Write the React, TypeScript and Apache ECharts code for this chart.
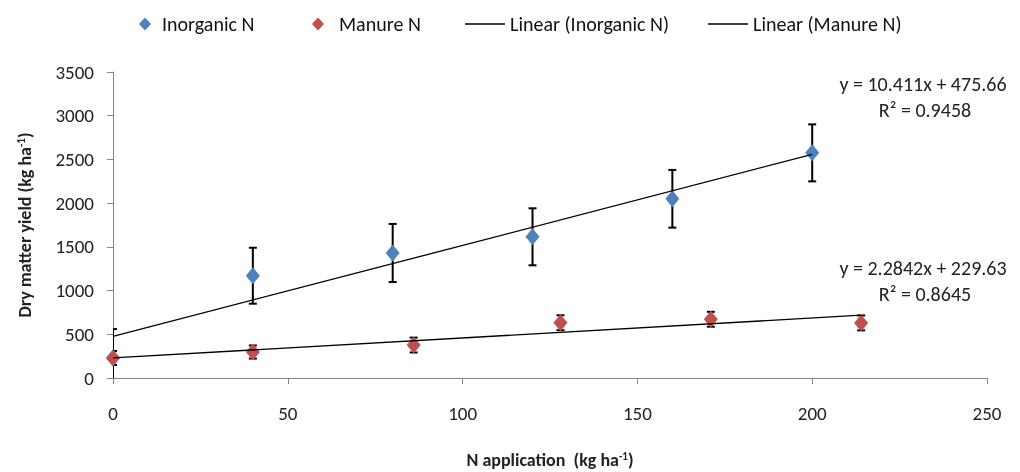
import React, { useEffect, useRef } from "react";
import * as echarts from "echarts";

const inorganicX = [0, 40, 80, 120, 160, 200];
const inorganicY = [230, 1170, 1430, 1615, 2050, 2575];
const inorganicErr = [330, 320, 332, 326, 330, 326];

const manureX = [0, 40, 86, 128, 171, 214];
const manureY = [229, 297, 377, 632, 672, 630];
const manureErr = [80, 75, 85, 85, 85, 85];

const inorganicTrend = [
  [0, 475.66],
  [200, 2557.86],
];
const manureTrend = [
  [0, 229.63],
  [214, 718.45],
];

const yTicks = [0, 500, 1000, 1500, 2000, 2500, 3000, 3500];
const xTicks = [0, 50, 100, 150, 200, 250];

const FONT = "Carlito, Lato, 'Liberation Sans', sans-serif";
const BLUE = "#4F81BD";
const RED = "#C0504D";

function errorRender(params: any, api: any) {
  const x = api.value(0);
  const y = api.value(1);
  const e = api.value(2);
  const top = api.coord([x, y + e]);
  const bot = api.coord([x, y - e]);
  const hw = 4;
  const st = { stroke: "#000", lineWidth: 2 };
  return {
    type: "group",
    children: [
      { type: "line", shape: { x1: top[0], y1: top[1], x2: bot[0], y2: bot[1] }, style: st },
      { type: "line", shape: { x1: top[0] - hw, y1: top[1], x2: top[0] + hw, y2: top[1] }, style: st },
      { type: "line", shape: { x1: bot[0] - hw, y1: bot[1], x2: bot[0] + hw, y2: bot[1] }, style: st },
    ],
  };
}

export default function App() {
  const ref = useRef<HTMLDivElement>(null);
  useEffect(() => {
    if (!ref.current) return;
    const chart = echarts.init(ref.current, undefined, { renderer: "svg" });
    const legendBase = {
      top: 9,
      orient: "horizontal" as const,
      textStyle: { fontFamily: FONT, fontSize: 20, color: "#111" },
      selectedMode: false,
    };
    const eqStyle = {
      fontSize: 20,
      fill: "#222",
      fontFamily: FONT,
      textAlign: "center",
      textVerticalAlign: "middle",
    };
    chart.setOption({
      animation: false,
      textStyle: { fontFamily: FONT },
      grid: { left: 113, right: 33, top: 72, bottom: 94, outerBoundsMode: "none" },
      legend: [
        {
          ...legendBase,
          left: 134,
          data: [{ name: "Inorganic N", icon: "diamond", itemStyle: { opacity: 1 } }],
          itemWidth: 12,
          itemHeight: 13,
          textStyle: { ...legendBase.textStyle, padding: [0, 0, 0, 6] },
        },
        {
          ...legendBase,
          left: 307,
          data: [{ name: "Manure N", icon: "diamond", itemStyle: { opacity: 1 } }],
          itemWidth: 12,
          itemHeight: 13,
          textStyle: { ...legendBase.textStyle, padding: [0, 0, 0, 10] },
        },
        {
          ...legendBase,
          left: 460,
          data: [{ name: "Linear (Inorganic N)", icon: "rect" }],
          itemWidth: 40,
          itemHeight: 1.5,
        },
        {
          ...legendBase,
          left: 703,
          data: [{ name: "Linear (Manure N)", icon: "rect" }],
          itemWidth: 40,
          itemHeight: 1.5,
        },
      ],
      xAxis: {
        type: "value",
        min: xTicks[0],
        max: xTicks[xTicks.length - 1],
        interval: 50,
        splitLine: { show: false },
        axisLine: { show: true, lineStyle: { color: "#868686", width: 1 } },
        axisTick: { show: true, length: 6, lineStyle: { color: "#868686" } },
        axisLabel: { fontSize: 19, color: "#222", margin: 26, fontFamily: FONT },
        name: "{a|N application  (kg ha}{s|-1}{a|)}",
        nameLocation: "middle",
        nameGap: 73,
        nameTextStyle: {
          rich: {
            a: { fontSize: 18, fontWeight: "bold", color: "#222", fontFamily: FONT },
            s: { fontSize: 11, fontWeight: "bold", color: "#222", fontFamily: FONT, verticalAlign: "top" },
          },
        },
      },
      yAxis: {
        type: "value",
        min: yTicks[0],
        max: yTicks[yTicks.length - 1],
        interval: 500,
        splitLine: { show: false },
        axisLine: { show: true, lineStyle: { color: "#868686", width: 1 } },
        axisTick: { show: true, length: 6, lineStyle: { color: "#868686" } },
        axisLabel: {
          fontSize: 19,
          color: "#222",
          margin: 19,
          fontFamily: FONT,
          formatter: (v: number) => String(v),
        },
        name: "{a|Dry matter yield (kg ha}{s|-1}{a|)}",
        nameLocation: "middle",
        nameGap: 79,
        nameTextStyle: {
          rich: {
            a: { fontSize: 18, fontWeight: "bold", color: "#222", fontFamily: FONT },
            s: { fontSize: 11, fontWeight: "bold", color: "#222", fontFamily: FONT, verticalAlign: "top" },
          },
        },
      },
      series: [
        {
          type: "custom",
          name: "errInorganic",
          renderItem: errorRender,
          clip: true,
          encode: { x: 0, y: 1 },
          data: inorganicX.map((x, i) => [x, inorganicY[i], inorganicErr[i]]),
          z: 2,
        },
        {
          type: "custom",
          name: "errManure",
          renderItem: errorRender,
          clip: true,
          encode: { x: 0, y: 1 },
          data: manureX.map((x, i) => [x, manureY[i], manureErr[i]]),
          z: 2,
        },
        {
          type: "scatter",
          name: "Inorganic N",
          symbol: "diamond",
          symbolSize: [14, 17],
          itemStyle: { color: BLUE, opacity: 1 },
          data: inorganicX.map((x, i) => [x, inorganicY[i]]),
          z: 3,
        },
        {
          type: "scatter",
          name: "Manure N",
          symbol: "diamond",
          symbolSize: [14, 17],
          itemStyle: { color: RED, opacity: 1 },
          data: manureX.map((x, i) => [x, manureY[i]]),
          z: 3,
        },
        {
          type: "line",
          name: "Linear (Inorganic N)",
          symbol: "none",
          lineStyle: { color: "#000", width: 1.3 },
          itemStyle: { color: "#000" },
          data: inorganicTrend,
          z: 4,
        },
        {
          type: "line",
          name: "Linear (Manure N)",
          symbol: "none",
          lineStyle: { color: "#000", width: 1.3 },
          itemStyle: { color: "#000" },
          data: manureTrend,
          z: 4,
        },
      ],
      graphic: [
        { type: "text", x: 923, y: 84, style: { ...eqStyle, text: "y = 10.411x + 475.66" } },
        { type: "text", x: 925, y: 110, style: { ...eqStyle, text: "R² = 0.9458" } },
        { type: "text", x: 923, y: 268, style: { ...eqStyle, text: "y = 2.2842x + 229.63" } },
        { type: "text", x: 925, y: 294, style: { ...eqStyle, text: "R² = 0.8645" } },
      ],
    });
    return () => chart.dispose();
  }, []);
  return (
    <div
      ref={ref}
      style={{ position: "fixed", left: 0, top: 0, width: 1020, height: 472 }}
    />
  );
}
